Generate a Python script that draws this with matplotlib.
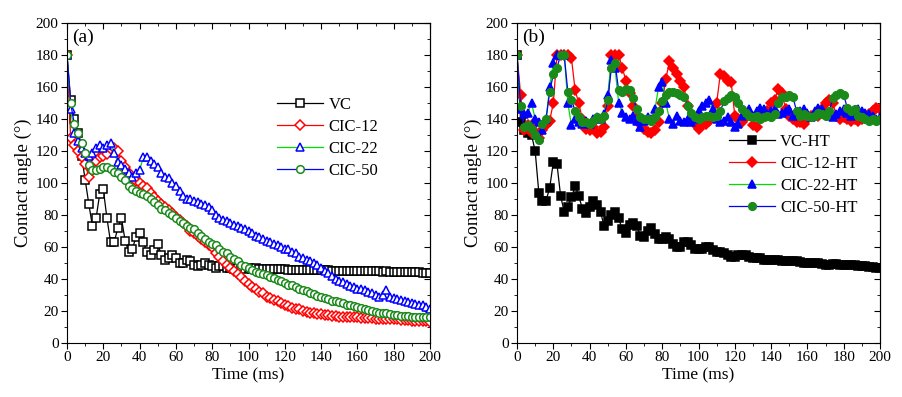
import matplotlib
matplotlib.use('Agg')
import matplotlib.pyplot as plt
from matplotlib.ticker import MultipleLocator

plt.rcParams['font.family'] = ['Liberation Serif', 'DejaVu Serif']

# time axis, one reading every 2 ms
time_ms = list(range(0, 202, 2))

# %% panel (a) - as prepared
vc = [180, 152, 140, 131, 117, 102, 87, 73, 78, 93,
      96, 78, 63, 63, 72, 78, 64, 57, 59, 66,
      69, 63, 57, 55, 58, 62, 55, 52, 53, 55,
      53, 50, 50, 52, 51, 49, 48, 49, 50, 49,
      48, 47, 48, 48, 47, 47, 46, 47, 47, 46,
      47, 46.5, 46.6, 46.4, 46.3, 46.4, 46.2, 46.2, 46.1, 46.0, 46.1,
      45.9, 45.9, 45.8, 45.9, 45.7, 45.7, 45.6, 45.7, 45.5, 45.5,
      45.4, 45.5, 45.3, 45.3, 45.2, 45.3, 45.1, 45.1, 45.0, 45.1,
      44.9, 44.9, 44.8, 44.9, 44.7, 44.7, 44.6, 44.7, 44.5, 44.5,
      44.4, 44.4, 44.3, 44.4, 44.2, 44.2, 44.1, 44.0, 43.9, 43.8]

cic12 = [180, 128, 124, 120, 116, 112, 104, 108, 114, 116,
         117, 118, 121, 122, 120, 114, 110, 106, 103, 101,
         100, 98, 97, 94, 91, 89, 87, 85, 83, 81,
         79, 77, 75, 73, 70, 69, 67, 65, 63, 61,
         60, 56, 54, 51, 49, 47, 45, 43, 41, 39,
         37, 35, 34, 32, 31, 29, 28, 27, 26, 25,
         24, 23, 22, 21, 21, 20, 19.5, 19, 18.5, 18,
         18, 17.5, 17.5, 17, 17, 16.5, 16.5, 16, 16, 16,
         16, 15.5, 15.5, 15.5, 15.5, 15, 15, 15, 15, 15,
         15, 15, 14.5, 14.5, 14.5, 14, 14, 14, 13.5, 13.5, 13]

cic22 = [180, 146, 131, 126, 122, 119, 117, 119, 122, 124,
         122, 124, 125, 119, 113, 111, 109, 106, 104, 106,
         108, 116, 116, 114, 112, 110, 106, 104, 103, 100,
         98, 95, 92, 90, 90, 89, 88, 87, 86, 85,
         83, 80, 78, 77, 76, 75, 74, 73, 72, 71,
         70, 69, 67, 66, 65, 64, 63, 62, 61, 60,
         59, 58.5, 57, 56, 54, 53, 52, 51, 50, 49,
         47, 45, 44, 42, 40, 39, 38, 37, 35.5, 35,
         34, 33.5, 33, 32, 31, 30, 29, 30, 33, 29,
         28, 27.5, 27, 26, 25.5, 25, 24.5, 24, 23.5, 22.5, 21]

cic50 = [180, 150, 137, 131, 125, 119, 111, 108, 108, 109,
         110, 110, 109, 107, 106, 104, 102, 98, 96, 95,
         94, 93, 92, 90, 88, 86, 84, 83, 81, 80,
         78, 76, 75, 73, 72, 71, 69, 67, 65, 63,
         62, 61, 59, 57, 56, 54, 52.5, 51, 49, 48,
         47, 45.5, 44.5, 44, 43, 42.5, 41.5, 40.5, 39.5, 38.5,
         37.5, 36.5, 36, 35, 34, 33, 32.5, 31.5, 30.5, 29.5,
         29, 28, 27.5, 26.5, 26, 25.5, 25, 24, 23.5, 23,
         22.5, 22, 21, 20.5, 20, 19.5, 19, 18.5, 18.5, 18,
         17.5, 17.5, 17, 17, 17, 16.5, 16.5, 16.5, 16, 16, 16]

# %% panel (b) - heat treated
vc_ht = [180, 138, 133, 131, 130, 120, 94, 89, 89, 97,
         113, 112, 92, 82, 85, 91, 98, 92, 84, 81,
         85, 89, 86, 82, 73, 76, 80, 82, 78, 71,
         69, 74, 75, 73, 67, 66, 70, 72, 68, 65,
         65, 66, 65, 62, 60, 60, 63, 63, 61, 59,
         59, 59, 60, 60, 58, 57, 57, 56, 55, 54,
         54, 55, 55, 55, 54, 53, 53, 53, 52, 52,
         52, 52, 52, 51.5, 51, 51, 51, 51, 50.5, 50,
         50, 50, 50, 50, 49.5, 49, 49, 49.5, 49.5, 49,
         49, 48.5, 48.5, 48.5, 48, 48, 48, 47.5, 47.5, 47, 47]

cic12_ht = [180, 155, 133, 136, 131, 138, 128, 133, 136, 139,
            150, 180, 180, 180, 180, 178, 158, 150, 140, 134,
            133, 135, 131, 132, 135, 148, 180, 180, 180, 172,
            164, 156, 148, 140, 137, 134, 132, 131, 133, 138,
            150, 165, 176, 172, 168, 164, 160, 148, 140, 137,
            134, 136, 137, 139, 142, 150, 168, 167, 164, 163,
            142, 140, 138, 141, 143, 136, 135, 141, 142, 145,
            150, 152, 159, 156, 146, 142, 140, 138, 138, 137,
            140, 142, 143, 142, 146, 150, 152, 150, 142, 140,
            141, 140, 139, 140, 139, 140, 141, 143, 145, 147, 146]

cic22_ht = [180, 146, 143, 144, 150, 140, 138, 133, 140, 160,
            175, 180, 180, 180, 150, 136, 140, 138, 137, 139,
            137, 140, 141, 140, 143, 155, 177, 172, 150, 144,
            141, 140, 142, 139, 135, 139, 141, 140, 146, 160,
            163, 150, 140, 137, 142, 139, 138, 140, 138, 140,
            145, 148, 150, 152, 146, 140, 138, 139, 141, 138,
            135, 137, 142, 144, 146, 142, 145, 147, 146, 143,
            145, 146, 143, 144, 145, 146, 142, 143, 145, 146,
            144, 141, 145, 147, 146, 143, 144, 141, 143, 145,
            146, 144, 142, 143, 146, 145, 144, 143, 142, 140, 141]

cic50_ht = [180, 148, 135, 136, 134, 130, 127, 137, 140, 157,
            168, 172, 180, 180, 157, 152, 145, 141, 138, 138,
            137, 139, 141, 140, 142, 152, 172, 175, 158, 157,
            159, 158, 153, 146, 141, 140, 140, 139, 141, 145,
            151, 155, 157, 157, 156, 155, 154, 148, 144, 141,
            140, 141, 142, 142, 141, 142, 145, 151, 153, 155,
            154, 150, 146, 144, 142, 141, 142, 140, 141, 142,
            141, 143, 150, 154, 154, 155, 154, 145, 142, 143,
            142, 141, 142, 144, 143, 142, 145, 153, 155, 156,
            155, 147, 145, 146, 142, 141, 140, 139, 140, 139, 140]

RED = '#ff0000'
BLUE = '#0000ff'
LGREEN = '#00dd00'
DGREEN = '#1a8a1a'


def style_axes(ax, tag):
    ax.set_xlim(0, 200)
    ax.set_ylim(0, 200)
    ax.xaxis.set_major_locator(MultipleLocator(20))
    ax.xaxis.set_minor_locator(MultipleLocator(10))
    ax.yaxis.set_major_locator(MultipleLocator(20))
    ax.yaxis.set_minor_locator(MultipleLocator(10))
    ax.tick_params(which='both', direction='out', labelsize=11, pad=2)
    ax.tick_params(which='major', length=4)
    ax.tick_params(which='minor', length=2.5)
    # mirror ticks on top / right, pointing in
    top = ax.secondary_xaxis('top')
    top.xaxis.set_major_locator(MultipleLocator(20))
    top.xaxis.set_minor_locator(MultipleLocator(10))
    top.tick_params(which='both', direction='in', labeltop=False)
    top.tick_params(which='major', length=4)
    top.tick_params(which='minor', length=2.5)
    right = ax.secondary_yaxis('right')
    right.yaxis.set_major_locator(MultipleLocator(20))
    right.yaxis.set_minor_locator(MultipleLocator(10))
    right.tick_params(which='both', direction='in', labelright=False)
    right.tick_params(which='major', length=4)
    right.tick_params(which='minor', length=2.5)
    ax.set_xlabel('Time (ms)', fontsize=12.5, labelpad=2.5)
    ax.set_ylabel('Contact angle (°)', fontsize=13.5, labelpad=3)
    ax.text(0.015, 0.955, tag, transform=ax.transAxes, fontsize=14,
            ha='left', va='center')


fig = plt.figure(figsize=(9.02, 3.97), dpi=100)
ax1 = fig.add_axes([0.0743, 0.136, 0.4024, 0.806])
ax2 = fig.add_axes([0.5732, 0.136, 0.4024, 0.806])

lw = 0.9

# panel (a): open markers
ax1.plot(time_ms, vc, '-s', color='black', mec='black', mfc='white', ms=6, mew=1.1, lw=lw, label='VC')
ax1.plot(time_ms, cic12, '-D', color=RED, mec=RED, mfc='white', ms=5, mew=1.1, lw=lw, label='CIC-12')
ax1.plot(time_ms, cic22, '-^', color=LGREEN, mec=BLUE, mfc='white', ms=6, mew=1.1, lw=lw, label='CIC-22')
ax1.plot(time_ms, cic50, '-o', color=BLUE, mec=DGREEN, mfc='white', ms=5.5, mew=1.1, lw=lw, label='CIC-50')
style_axes(ax1, '(a)')
ax1.legend(loc='upper left', bbox_to_anchor=(0.555, 0.795), frameon=False, fontsize=12,
           handlelength=2.8, handletextpad=0.3, labelspacing=0.36, borderpad=0)

# panel (b): filled markers
ax2.plot(time_ms, vc_ht, '-s', color='black', mec='black', mfc='black', ms=6, mew=1.1, lw=lw, label='VC-HT')
ax2.plot(time_ms, cic12_ht, '-D', color=RED, mec=RED, mfc=RED, ms=5, mew=1.1, lw=lw, label='CIC-12-HT')
ax2.plot(time_ms, cic22_ht, '-^', color=LGREEN, mec=BLUE, mfc=BLUE, ms=6, mew=1.1, lw=lw, label='CIC-22-HT')
ax2.plot(time_ms, cic50_ht, '-o', color=BLUE, mec=DGREEN, mfc=DGREEN, ms=5.5, mew=1.1, lw=lw, label='CIC-50-HT')
style_axes(ax2, '(b)')
ax2.legend(loc='upper left', bbox_to_anchor=(0.56, 0.68), frameon=False, fontsize=12,
           handlelength=2.8, handletextpad=0.3, labelspacing=0.36, borderpad=0)

plt.savefig('out.png', dpi=100)
